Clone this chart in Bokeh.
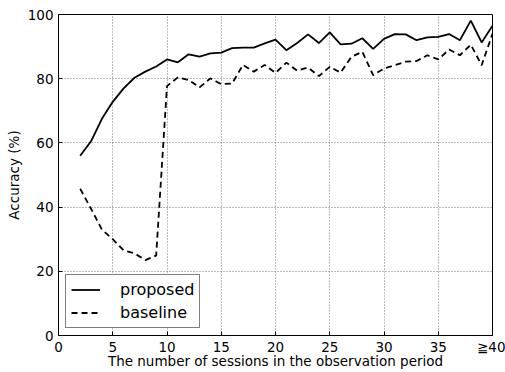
from bokeh.plotting import figure
from bokeh.models import Range1d, FixedTicker, Legend, LegendItem
from bokeh.embed import file_html
from bokeh.resources import INLINE

sessions = list(range(2, 41))
proposed = [56, 60.5, 67.5, 72.8, 77, 80.3, 82.2, 83.8, 86, 85.1, 87.6, 86.9, 87.9, 88.1,
            89.5, 89.7, 89.7, 91, 92.2, 88.9, 91.1, 93.8, 91.1, 94.4, 90.7, 90.9, 92.6,
            89.3, 92.4, 93.9, 93.8, 92, 92.9, 93, 93.9, 92, 98.1, 91.3, 96.5]
baseline = [45.7, 39.5, 33, 30, 26.5, 25.6, 23.5, 24.9, 77.7, 80.4, 79.6, 77.3, 80.1, 78.3,
            78.5, 84.3, 82.2, 84.3, 81.8, 85, 82.5, 83.5, 80.8, 83.7, 81.9, 86.8, 88.4,
            81.1, 83.2, 84.2, 85.3, 85.5, 87.3, 86, 89.1, 87.3, 90.6, 84.2, 94]
x_ticks = [0, 5, 10, 15, 20, 25, 30, 35, 40]
x_tick_labels = ["0", "5", "10", "15", "20", "25", "30", "35", "\u226740"]
y_ticks = [0, 20, 40, 60, 80, 100]

FONT = "DejaVu Sans"

p = figure(width=505, height=372, output_backend="svg", toolbar_location=None,
           x_range=Range1d(0, 40), y_range=Range1d(0, 100),
           min_border_left=58, min_border_right=13, min_border_top=14, min_border_bottom=37)
p.background_fill_color = "white"
p.border_fill_color = "white"
p.outline_line_color = "black"
p.outline_line_width = 1

r1 = p.line(sessions, proposed, line_color="black", line_width=1.8)
r2 = p.line(sessions, baseline, line_color="black", line_width=1.8, line_dash="6 4")

for ax in (p.xaxis[0], p.yaxis[0]):
    ax.major_tick_in = 4
    ax.major_tick_out = 0
    ax.minor_tick_line_color = None
    ax.axis_line_color = "black"
    ax.major_label_text_font = FONT
    ax.major_label_text_font_size = "13.5px"
    ax.major_label_text_color = "black"
    ax.axis_label_text_font = FONT
    ax.axis_label_text_font_size = "13.5px"
    ax.axis_label_text_font_style = "normal"
    ax.axis_label_text_color = "black"

p.xaxis.ticker = FixedTicker(ticks=x_ticks)
p.xaxis.major_label_overrides = {t: l for t, l in zip(x_ticks, x_tick_labels)}
p.yaxis.ticker = FixedTicker(ticks=y_ticks)
p.xaxis.axis_label = "The number of sessions in the observation period"
p.yaxis.axis_label = "Accuracy (%)"
p.xaxis.major_label_standoff = 3
p.xaxis.axis_label_standoff = -5
p.yaxis.major_label_standoff = 5
p.yaxis.axis_label_standoff = 3

p.grid.grid_line_color = "#555555"
p.grid.grid_line_dash = "1 2"
p.grid.grid_line_width = 1
p.grid.grid_line_alpha = 0.8

legend = Legend(items=[LegendItem(label="proposed", renderers=[r1]),
                       LegendItem(label="baseline", renderers=[r2])],
                location="bottom_left")
legend.label_text_font = FONT
legend.label_text_font_size = "16px"
legend.label_text_color = "black"
legend.border_line_color = "black"
legend.border_line_width = 1
legend.background_fill_alpha = 1
legend.glyph_width = 29
legend.glyph_height = 19
legend.label_height = 19
legend.label_standoff = 20
legend.padding = 5
legend.spacing = 4
legend.margin = 7
p.add_layout(legend)

open("out.html", "w").write(file_html(p, INLINE))
